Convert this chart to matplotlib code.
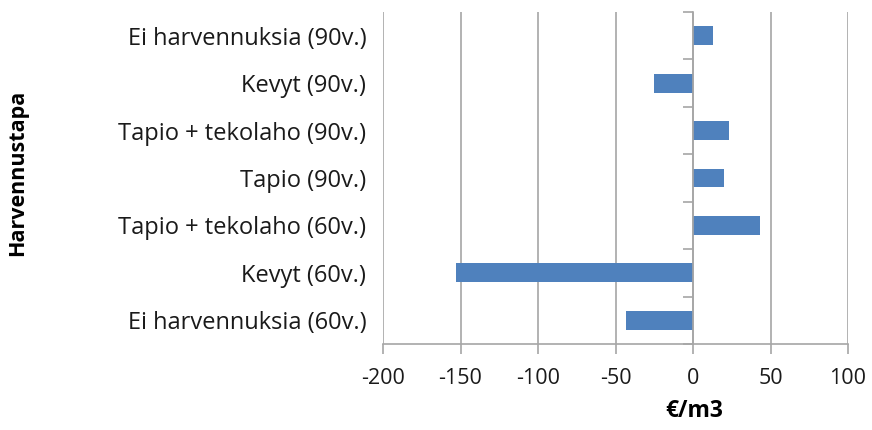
import matplotlib.pyplot as plt
import numpy as np

plt.rcParams['font.family'] = ['Open Sans', 'DejaVu Sans']

categories = ['Ei harvennuksia (60v.)', 'Kevyt (60v.)', 'Tapio + tekolaho (60v.)',
              'Tapio (90v.)', 'Tapio + tekolaho (90v.)', 'Kevyt (90v.)',
              'Ei harvennuksia (90v.)']
values = [-43, -153, 43, 20, 23, -25, 13]
xticks = [-200, -150, -100, -50, 0, 50, 100]

bar_color = '#4f81bd'
grid_color = '#a6a6a6'

fig = plt.figure(figsize=(8.72, 4.30), dpi=100)
ax = fig.add_axes([383/872, 1-344/430, (848-383)/872, (344-12)/430])

y = np.arange(len(categories))
ax.barh(y, values, height=0.4, color=bar_color, zorder=3)

ax.set_xlim(-200, 100)
ax.set_ylim(-0.5, len(categories)-0.5)
ax.set_xticks(xticks)
ax.set_xticklabels([str(v) for v in xticks], fontsize=15.5, color='#1a1a1a')
ax.xaxis.grid(True, color=grid_color, linewidth=1.2, zorder=0)

# category boundaries as ticks on the zero line
ax.set_yticks(np.arange(len(categories)+1)-0.5)
ax.tick_params(axis='y', length=7, width=1.2, color=grid_color, labelleft=False, direction='out')
ax.tick_params(axis='x', length=7, width=1.2, color=grid_color, pad=10)
ax.spines['left'].set_position(('data', 0))
for s in ['top', 'right']:
    ax.spines[s].set_visible(False)
for s in ['left', 'bottom']:
    ax.spines[s].set_color(grid_color)
    ax.spines[s].set_linewidth(1.2)
    ax.spines[s].set_zorder(4)

sec = ax.secondary_yaxis(0)
sec.set_yticks(y)
sec.set_yticklabels(categories, fontsize=17, color='#1a1a1a')
sec.tick_params(length=0, pad=12)
sec.spines['left'].set_visible(False)

fig.text(18/872, 1-173/430, 'Harvennustapa', rotation=90, fontsize=15.5, fontweight='bold',
         ha='center', va='center', color='#000000')
fig.text(694/872, 1-411/430, '€/m3', fontsize=16.5, fontweight='bold',
         ha='center', va='center', color='#000000')

fig.savefig('out.png', dpi=100)
